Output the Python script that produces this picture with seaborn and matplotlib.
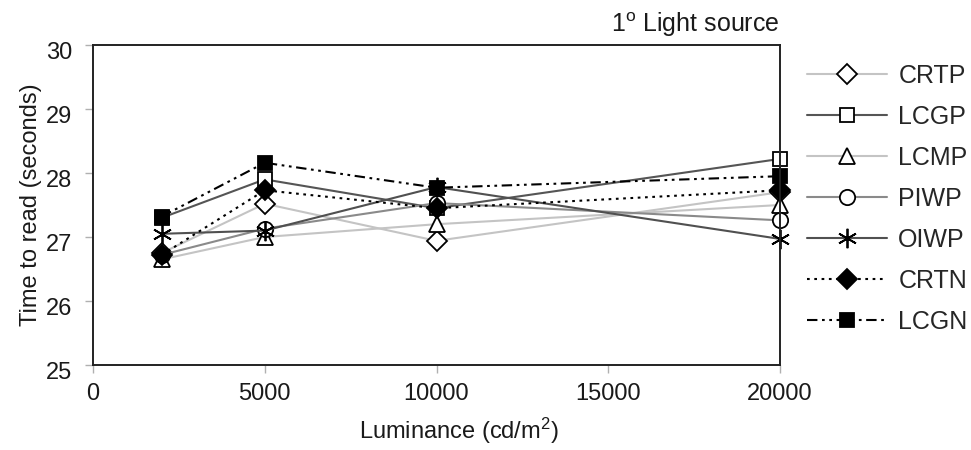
import matplotlib
matplotlib.use("Agg")
import matplotlib.pyplot as plt
import matplotlib.transforms as mtransforms
import seaborn as sns
import pandas as pd

# Luminance levels tested (cd/m²)
luminance = [2000, 5000, 10000, 20000]

# Mean reading time (seconds) per display condition
crtp = [26.75, 27.52, 26.94, 27.70]
lcgp = [27.30, 27.90, 27.45, 28.22]
lcmp = [26.65, 27.00, 27.20, 27.50]
piwp = [26.72, 27.13, 27.53, 27.26]
oiwp = [27.05, 27.10, 27.78, 26.97]
crtn = [26.72, 27.73, 27.45, 27.73]
lcgn = [27.32, 28.16, 27.77, 27.95]

series_names = ["CRTP", "LCGP", "LCMP", "PIWP", "OIWP", "CRTN", "LCGN"]
series_values = [crtp, lcgp, lcmp, piwp, oiwp, crtn, lcgn]

x_ticks = [0, 5000, 10000, 15000, 20000]
y_ticks = [25, 26, 27, 28, 29, 30]

rows = []
for name, vals in zip(series_names, series_values):
    for lum, v in zip(luminance, vals):
        rows.append({"Luminance": lum, "Time": v, "Display": name})
df = pd.DataFrame(rows)

sns.set_style("white")
plt.rcParams["font.family"] = ["Liberation Sans", "DejaVu Sans"]
plt.rcParams["mathtext.default"] = "regular"

styles = {
    "CRTP": dict(color="#c4c4c4", marker="D", mfc="white", dashes=None, ms=10),
    "LCGP": dict(color="#555555", marker="s", mfc="white", dashes=None, ms=10),
    "LCMP": dict(color="#c4c4c4", marker="^", mfc="white", dashes=None, ms=12),
    "PIWP": dict(color="#8a8a8a", marker="o", mfc="white", dashes=None, ms=11),
    "OIWP": dict(color="#505050", marker=(6, 2, 0), mfc="black", dashes=None, ms=14),
    "CRTN": dict(color="black", marker="D", mfc="black", dashes=(1.3, 2.2), ms=10),
    "LCGN": dict(color="black", marker="s", mfc="black", dashes=(5, 2.2, 1.3, 2.2, 1.3, 2.2), ms=10.5),
}

fig = plt.figure(figsize=(9.71, 4.5), dpi=100)
ax = fig.add_axes([93 / 971, 85 / 450, (780 - 93) / 971, 320 / 450])

for name in series_names:
    st = styles[name]
    sub = df[df["Display"] == name]
    sns.lineplot(
        data=sub, x="Luminance", y="Time", ax=ax, label=name,
        color=st["color"], marker=st["marker"], ms=st["ms"],
        mfc=st["mfc"], mec="black", mew=1.3, lw=1.5,
    )
    ln = ax.lines[-1]
    if st["dashes"] is not None:
        ln.set_dashes(st["dashes"])
    ln.set_clip_on(False)

ax.set_xlim(0, 20000)
ax.set_ylim(25, 30)
ax.set_xticks(x_ticks)
ax.set_yticks(y_ticks)
ax.tick_params(axis="both", which="both", direction="out", length=6, width=1,
               color="#b0b0b0", labelsize=17, labelcolor="#1a1a1a",
               left=True, bottom=True)
ax.tick_params(axis="y", pad=9)
ax.tick_params(axis="x", pad=7)

# y tick labels sit a little below their tick marks
shift = mtransforms.ScaledTranslation(0, -4 / 72, fig.dpi_scale_trans)
for lab in ax.get_yticklabels():
    lab.set_transform(lab.get_transform() + shift)

for sp in ax.spines.values():
    sp.set_visible(True)
    sp.set_color("#222222")
    sp.set_linewidth(1.4)

ax.set_xlabel("Luminance (cd/m$^{2}$)", fontsize=17, color="#1a1a1a")
ax.xaxis.set_label_coords(0.533, -0.158)
ax.xaxis.label.set_va("top")
ax.set_ylabel("Time to read (seconds)", fontsize=17, color="#1a1a1a", labelpad=3)
ax.text(1.0, 1.02, "1$^{o}$ Light source", transform=ax.transAxes,
        ha="right", va="bottom", fontsize=18, color="#1a1a1a")

handles, labels = ax.get_legend_handles_labels()
if ax.legend_:
    ax.legend_.remove()
fig.legend(handles, labels, loc="upper left",
           bbox_to_anchor=(807 / 971, 1 - 64 / 450),
           frameon=False, fontsize=18, handlelength=3.2,
           handletextpad=0.45, labelspacing=0.68, borderaxespad=0,
           borderpad=0)

fig.savefig("out.png", dpi=100)
